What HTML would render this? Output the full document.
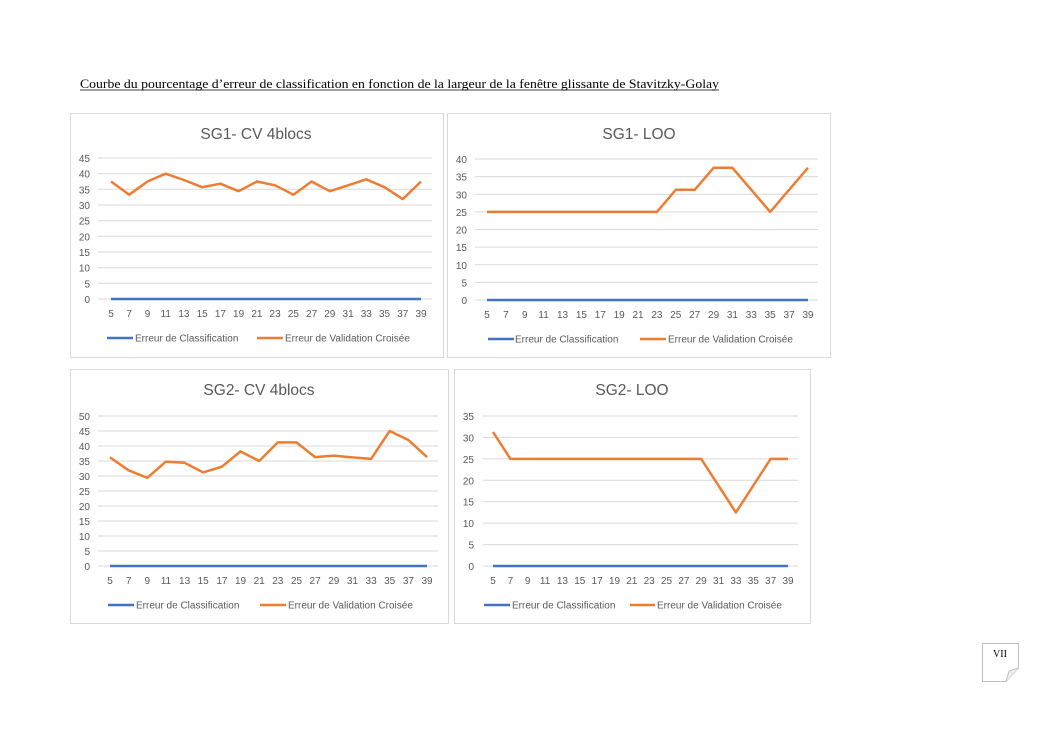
<!DOCTYPE html>
<html><head><meta charset="utf-8"><style>
body{margin:0;background:#fff;}
svg{display:block;}
.t{font-family:"Liberation Sans",sans-serif;font-size:10px;fill:#595959;}
.h{font-family:"Liberation Sans",sans-serif;font-size:15.5px;fill:#595959;}
.g{stroke:#d9d9d9;stroke-width:1;}
.o{fill:none;stroke:#ed7d31;stroke-width:2.5;stroke-linejoin:round;}
.b{stroke:#4472c4;stroke-width:2.5;}
.box{fill:#fff;stroke:#d9d9d9;stroke-width:1;}
</style></head><body>
<svg width="1053" height="745" xmlns="http://www.w3.org/2000/svg">
<text x="80" y="88" font-family="Liberation Serif,serif" font-size="13" fill="#000" textLength="639" lengthAdjust="spacingAndGlyphs">Courbe du pourcentage d’erreur de classification en fonction de la largeur de la fenêtre glissante de Stavitzky-Golay</text>
<line x1="80" y1="90" x2="719" y2="90" stroke="#000" stroke-width="0.8"/>

<!-- Chart 1 -->
<rect class="box" x="70.5" y="113.5" width="373" height="244"/>
<text class="h" x="256" y="139" text-anchor="middle">SG1- CV 4blocs</text>
<g class="g">
<line x1="98" y1="158" x2="432" y2="158"/><line x1="98" y1="173.7" x2="432" y2="173.7"/><line x1="98" y1="189.3" x2="432" y2="189.3"/><line x1="98" y1="205" x2="432" y2="205"/><line x1="98" y1="220.7" x2="432" y2="220.7"/><line x1="98" y1="236.3" x2="432" y2="236.3"/><line x1="98" y1="252" x2="432" y2="252"/><line x1="98" y1="267.7" x2="432" y2="267.7"/><line x1="98" y1="283.3" x2="432" y2="283.3"/><line x1="98" y1="299" x2="432" y2="299"/>
</g>
<g class="t" text-anchor="end">
<text x="90" y="162">45</text><text x="90" y="177.7">40</text><text x="90" y="193.3">35</text><text x="90" y="209">30</text><text x="90" y="224.7">25</text><text x="90" y="240.3">20</text><text x="90" y="256">15</text><text x="90" y="271.7">10</text><text x="90" y="287.3">5</text><text x="90" y="303">0</text>
</g>
<g class="t" text-anchor="middle">
<text x="111" y="317">5</text><text x="129.2" y="317">7</text><text x="147.5" y="317">9</text><text x="165.7" y="317">11</text><text x="183.9" y="317">13</text><text x="202.2" y="317">15</text><text x="220.4" y="317">17</text><text x="238.6" y="317">19</text><text x="256.9" y="317">21</text><text x="275.1" y="317">23</text><text x="293.4" y="317">25</text><text x="311.6" y="317">27</text><text x="329.8" y="317">29</text><text x="348.1" y="317">31</text><text x="366.3" y="317">33</text><text x="384.5" y="317">35</text><text x="402.8" y="317">37</text><text x="421" y="317">39</text>
</g>
<line class="b" x1="111" y1="299" x2="421" y2="299"/>
<polyline class="o" points="111,181.5 129.2,194.7 147.5,181.5 165.7,173.7 183.9,180 202.2,187.2 220.4,183.7 238.6,191.2 256.9,181.5 275.1,185.3 293.4,194.7 311.6,181.5 329.8,191.2 348.1,185.3 366.3,179.3 384.5,187.2 402.8,199.1 421,181.5"/>
<line class="b" x1="107" y1="338" x2="133" y2="338"/><text class="t" x="135" y="341.5">Erreur de Classification</text>
<line class="o" x1="257" y1="338" x2="283" y2="338"/><text class="t" x="285" y="341.5">Erreur de Validation Croisée</text>

<!-- Chart 2 -->
<rect class="box" x="447.5" y="113.5" width="383" height="244"/>
<text class="h" x="639" y="139" text-anchor="middle">SG1- LOO</text>
<g class="g">
<line x1="475" y1="159" x2="818" y2="159"/><line x1="475" y1="176.6" x2="818" y2="176.6"/><line x1="475" y1="194.3" x2="818" y2="194.3"/><line x1="475" y1="211.9" x2="818" y2="211.9"/><line x1="475" y1="229.5" x2="818" y2="229.5"/><line x1="475" y1="247.1" x2="818" y2="247.1"/><line x1="475" y1="264.8" x2="818" y2="264.8"/><line x1="475" y1="282.4" x2="818" y2="282.4"/><line x1="475" y1="300" x2="818" y2="300"/>
</g>
<g class="t" text-anchor="end">
<text x="467" y="163">40</text><text x="467" y="180.6">35</text><text x="467" y="198.3">30</text><text x="467" y="215.9">25</text><text x="467" y="233.5">20</text><text x="467" y="251.1">15</text><text x="467" y="268.8">10</text><text x="467" y="286.4">5</text><text x="467" y="304">0</text>
</g>
<g class="t" text-anchor="middle">
<text x="487" y="318">5</text><text x="505.9" y="318">7</text><text x="524.8" y="318">9</text><text x="543.6" y="318">11</text><text x="562.5" y="318">13</text><text x="581.4" y="318">15</text><text x="600.3" y="318">17</text><text x="619.2" y="318">19</text><text x="638" y="318">21</text><text x="656.9" y="318">23</text><text x="675.8" y="318">25</text><text x="694.7" y="318">27</text><text x="713.6" y="318">29</text><text x="732.4" y="318">31</text><text x="751.3" y="318">33</text><text x="770.2" y="318">35</text><text x="789.1" y="318">37</text><text x="808" y="318">39</text>
</g>
<line class="b" x1="487" y1="300" x2="808" y2="300"/>
<polyline class="o" points="487,211.9 656.9,211.9 675.8,189.8 694.7,189.8 713.6,167.8 732.4,167.8 751.3,189.8 770.2,211.9 789.1,189.8 808,167.8"/>
<line class="b" x1="488" y1="339" x2="514" y2="339"/><text class="t" x="515" y="342.5">Erreur de Classification</text>
<line class="o" x1="640" y1="339" x2="666" y2="339"/><text class="t" x="668" y="342.5">Erreur de Validation Croisée</text>

<!-- Chart 3 -->
<rect class="box" x="70.5" y="369.5" width="378" height="254"/>
<text class="h" x="259" y="395" text-anchor="middle">SG2- CV 4blocs</text>
<g class="g">
<line x1="98" y1="416" x2="438" y2="416"/><line x1="98" y1="431" x2="438" y2="431"/><line x1="98" y1="446" x2="438" y2="446"/><line x1="98" y1="461" x2="438" y2="461"/><line x1="98" y1="476" x2="438" y2="476"/><line x1="98" y1="491" x2="438" y2="491"/><line x1="98" y1="506" x2="438" y2="506"/><line x1="98" y1="521" x2="438" y2="521"/><line x1="98" y1="536" x2="438" y2="536"/><line x1="98" y1="551" x2="438" y2="551"/><line x1="98" y1="566" x2="438" y2="566"/>
</g>
<g class="t" text-anchor="end">
<text x="90" y="420">50</text><text x="90" y="435">45</text><text x="90" y="450">40</text><text x="90" y="465">35</text><text x="90" y="480">30</text><text x="90" y="495">25</text><text x="90" y="510">20</text><text x="90" y="525">15</text><text x="90" y="540">10</text><text x="90" y="555">5</text><text x="90" y="570">0</text>
</g>
<g class="t" text-anchor="middle">
<text x="110" y="584">5</text><text x="128.6" y="584">7</text><text x="147.3" y="584">9</text><text x="165.9" y="584">11</text><text x="184.6" y="584">13</text><text x="203.2" y="584">15</text><text x="221.9" y="584">17</text><text x="240.5" y="584">19</text><text x="259.2" y="584">21</text><text x="277.8" y="584">23</text><text x="296.5" y="584">25</text><text x="315.1" y="584">27</text><text x="333.8" y="584">29</text><text x="352.4" y="584">31</text><text x="371.1" y="584">33</text><text x="389.7" y="584">35</text><text x="408.4" y="584">37</text><text x="427" y="584">39</text>
</g>
<line class="b" x1="110" y1="566" x2="427" y2="566"/>
<polyline class="o" points="110,457.4 128.6,470.3 147.3,477.8 165.9,461.6 184.6,462.8 203.2,472.4 221.9,466.7 240.5,451.4 259.2,461 277.8,442.4 296.5,442.4 315.1,457.1 333.8,455.6 352.4,457.4 371.1,458.9 389.7,431 408.4,440 427,457.1"/>
<line class="b" x1="108" y1="605" x2="134" y2="605"/><text class="t" x="136" y="608.5">Erreur de Classification</text>
<line class="o" x1="260" y1="605" x2="286" y2="605"/><text class="t" x="288" y="608.5">Erreur de Validation Croisée</text>

<!-- Chart 4 -->
<rect class="box" x="454.5" y="369.5" width="356" height="254"/>
<text class="h" x="632" y="395" text-anchor="middle">SG2- LOO</text>
<g class="g">
<line x1="483" y1="416" x2="798" y2="416"/><line x1="483" y1="437.4" x2="798" y2="437.4"/><line x1="483" y1="458.9" x2="798" y2="458.9"/><line x1="483" y1="480.3" x2="798" y2="480.3"/><line x1="483" y1="501.7" x2="798" y2="501.7"/><line x1="483" y1="523.1" x2="798" y2="523.1"/><line x1="483" y1="544.6" x2="798" y2="544.6"/><line x1="483" y1="566" x2="798" y2="566"/>
</g>
<g class="t" text-anchor="end">
<text x="474" y="420">35</text><text x="474" y="441.4">30</text><text x="474" y="462.9">25</text><text x="474" y="484.3">20</text><text x="474" y="505.7">15</text><text x="474" y="527.1">10</text><text x="474" y="548.6">5</text><text x="474" y="570">0</text>
</g>
<g class="t" text-anchor="middle">
<text x="493" y="584">5</text><text x="510.4" y="584">7</text><text x="527.7" y="584">9</text><text x="545.1" y="584">11</text><text x="562.4" y="584">13</text><text x="579.8" y="584">15</text><text x="597.1" y="584">17</text><text x="614.5" y="584">19</text><text x="631.8" y="584">21</text><text x="649.2" y="584">23</text><text x="666.5" y="584">25</text><text x="683.9" y="584">27</text><text x="701.2" y="584">29</text><text x="718.6" y="584">31</text><text x="735.9" y="584">33</text><text x="753.3" y="584">35</text><text x="770.6" y="584">37</text><text x="788" y="584">39</text>
</g>
<line class="b" x1="493" y1="566" x2="788" y2="566"/>
<polyline class="o" points="493,432 510.4,458.9 701.2,458.9 735.9,512.4 770.6,458.9 788,458.9"/>
<line class="b" x1="484" y1="605" x2="510" y2="605"/><text class="t" x="512" y="608.5">Erreur de Classification</text>
<line class="o" x1="630" y1="605" x2="655" y2="605"/><text class="t" x="657" y="608.5">Erreur de Validation Croisée</text>

<!-- page number -->
<path d="M982.5,643.5 H1018.5 V668 L1006,681.5 H982.5 Z" fill="#fff" stroke="#bfbfbf"/>
<path d="M1006,681.5 L1009,671 L1018.5,668" fill="#eee" stroke="#bfbfbf"/>
<text x="1000" y="657" text-anchor="middle" font-family="Liberation Serif,serif" font-size="10" fill="#000">VII</text>
</svg>
</body></html>
